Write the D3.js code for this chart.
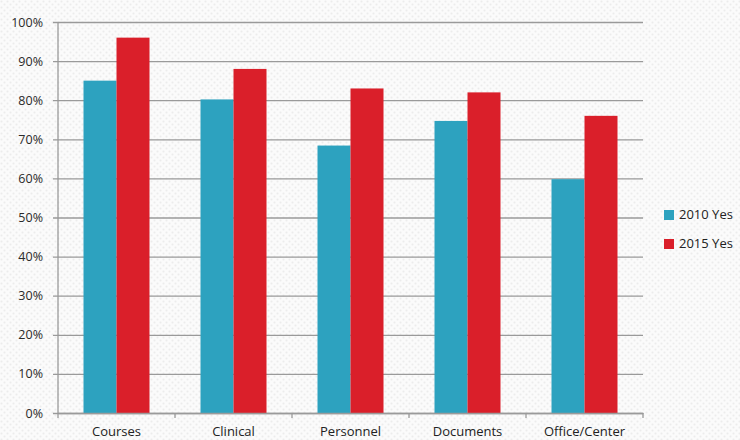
<!DOCTYPE html>
<html>
<head>
<meta charset="utf-8">
<script src="https://cdn.jsdelivr.net/npm/d3@7"></script>
<style>
  body { margin: 0; background: #fff; }
  svg { display: block; }
</style>
</head>
<body>
<svg id="chart"></svg>
<script>
const categories = ["Courses", "Clinical", "Personnel", "Documents", "Office/Center"];
const seriesNames = ["2010 Yes", "2015 Yes"];
const values2010 = [85, 80.2, 68.4, 74.7, 59.8];
const values2015 = [96, 88, 83, 82, 76];
const yTicks = [0, 10, 20, 30, 40, 50, 60, 70, 80, 90, 100];
const colors = ["#2da2bf", "#da1f2a"];

const width = 740, height = 440;
const margin = { top: 22, right: 97, bottom: 27, left: 58 };
const innerW = width - margin.left - margin.right;
const innerH = height - margin.top - margin.bottom;

const svg = d3.select("#chart")
    .attr("width", width)
    .attr("height", height);

// dotted background
const defs = svg.append("defs");
const pat = defs.append("pattern")
    .attr("id", "dots")
    .attr("width", 6)
    .attr("height", 6)
    .attr("patternUnits", "userSpaceOnUse");
pat.append("rect").attr("width", 6).attr("height", 6).attr("fill", "#fbfbfb");
pat.append("circle").attr("cx", 1.5).attr("cy", 1.5).attr("r", 1).attr("fill", "#ececec");
pat.append("circle").attr("cx", 4.5).attr("cy", 4.5).attr("r", 1).attr("fill", "#ececec");
svg.append("rect").attr("width", width).attr("height", height).attr("fill", "url(#dots)");

const g = svg.append("g")
    .attr("transform", "translate(" + margin.left + "," + margin.top + ")");

const x = d3.scaleBand()
    .domain(categories)
    .range([0, innerW])
    .paddingInner(0)
    .paddingOuter(0);

const inner = d3.scaleBand()
    .domain(seriesNames)
    .range([25.5, x.bandwidth() - 25.5]);

const y = d3.scaleLinear()
    .domain([0, 100])
    .range([innerH, 0]);

// gridlines + y labels
const yAxis = g.append("g")
    .call(d3.axisLeft(y)
        .tickValues(yTicks)
        .tickSize(-(innerW + 5))
        .tickFormat(d => d + "%"))
    .attr("transform", "translate(-5,0)");
yAxis.select(".domain").remove();
yAxis.selectAll(".tick line")
    .attr("stroke", "#9a9a9a")
    .attr("stroke-width", 1.3);
yAxis.selectAll(".tick text")
    .attr("x", -10)
    .attr("fill", "#2a2a2a")
    .style("font-family", "'Open Sans', sans-serif")
    .style("font-size", "12.5px");

// bars
const groups = g.append("g")
    .selectAll("g")
    .data(categories)
    .enter()
    .append("g")
    .attr("transform", d => "translate(" + x(d) + ",0)");

groups.selectAll("rect")
    .data((d, i) => [
        { key: seriesNames[0], value: values2010[i], c: 0 },
        { key: seriesNames[1], value: values2015[i], c: 1 }
    ])
    .enter()
    .append("rect")
    .attr("x", d => inner(d.key))
    .attr("y", d => y(d.value))
    .attr("width", inner.bandwidth())
    .attr("height", d => innerH - y(d.value))
    .attr("fill", d => colors[d.c]);

// y axis line
g.append("line")
    .attr("x1", 0).attr("x2", 0)
    .attr("y1", 0).attr("y2", innerH)
    .attr("stroke", "#9a9a9a")
    .attr("stroke-width", 1.3);

// x axis
const xAxis = g.append("g")
    .attr("transform", "translate(0," + innerH + ")")
    .call(d3.axisBottom(x).tickSize(0).tickPadding(14));
xAxis.select(".domain")
    .attr("stroke", "#9a9a9a")
    .attr("stroke-width", 1.3);
xAxis.selectAll(".tick text")
    .attr("fill", "#222")
    .style("font-family", "'Open Sans', sans-serif")
    .style("font-size", "13px");

// x tick marks at band edges
const edges = categories.map(c => x(c)).concat([innerW]);
g.append("g")
    .selectAll("line")
    .data(edges)
    .enter()
    .append("line")
    .attr("x1", d => d).attr("x2", d => d)
    .attr("y1", innerH).attr("y2", innerH + 5)
    .attr("stroke", "#9a9a9a")
    .attr("stroke-width", 1.3);

// legend
const legend = svg.append("g")
    .attr("transform", "translate(664,210)");
const li = legend.selectAll("g")
    .data(seriesNames)
    .enter()
    .append("g")
    .attr("transform", (d, i) => "translate(0," + i * 29 + ")");
li.append("rect")
    .attr("width", 10)
    .attr("height", 10)
    .attr("fill", (d, i) => colors[i]);
li.append("text")
    .attr("x", 15)
    .attr("y", 9)
    .text(d => d)
    .attr("fill", "#222")
    .style("font-family", "'Open Sans', sans-serif")
    .style("font-size", "13px");
</script>
</body>
</html>
